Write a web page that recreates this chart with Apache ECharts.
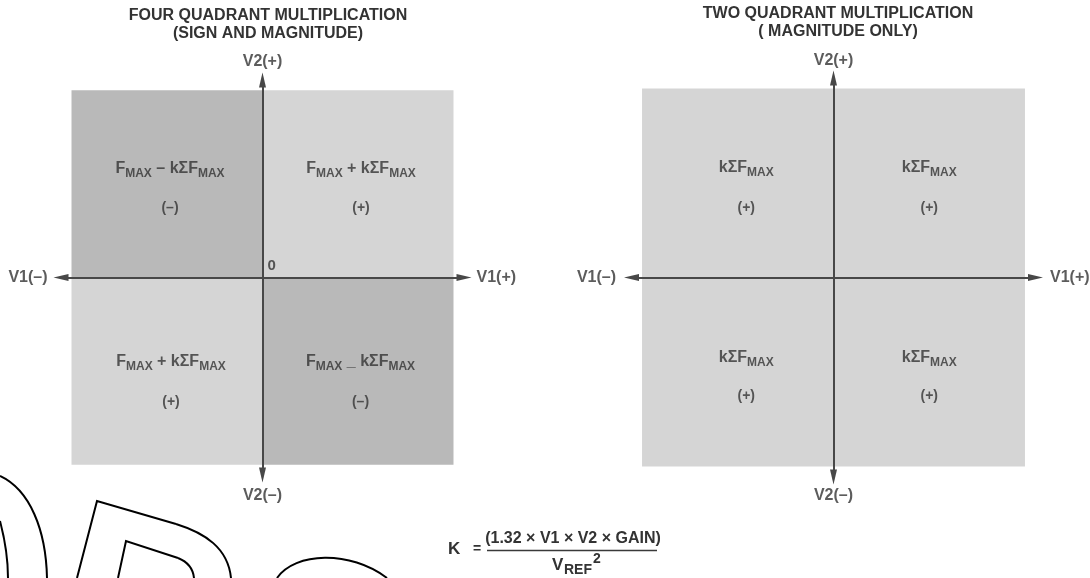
<!DOCTYPE html>
<html>
<head>
<meta charset="utf-8">
<script src="https://cdn.jsdelivr.net/npm/echarts@6/dist/echarts.min.js"></script>
<style>
html,body{margin:0;padding:0;background:#fff;}
#c{width:1090px;height:578px;}
</style>
</head>
<body>
<div id="c"></div>
<script>
// ---- data ----
const quadX = [[-1, 0], [0, 1], [-1, 0], [0, 1]];   // TL, TR, BL, BR
const quadY = [[0, 1], [0, 1], [-1, 0], [-1, 0]];
const fourFormulas = ['F_MAX – kΣF_MAX', 'F_MAX + kΣF_MAX', 'F_MAX + kΣF_MAX', 'F_MAX _ kΣF_MAX'];
const fourSigns = ['(–)', '(+)', '(+)', '(–)'];
const twoFormulas = ['kΣF_MAX', 'kΣF_MAX', 'kΣF_MAX', 'kΣF_MAX'];
const twoSigns = ['(+)', '(+)', '(+)', '(+)'];
const axisEndNames = ['V1(–)', 'V1(+)', 'V2(+)', 'V2(–)'];
const originLabel = '0';
const fourTitle = ['FOUR QUADRANT MULTIPLICATION', '(SIGN AND MAGNITUDE)'];
const twoTitle = ['TWO QUADRANT MULTIPLICATION', '( MAGNITUDE ONLY)'];
const formulaLHS = ['K', '='];
const formulaNum = '(1.32 × V1 × V2 × GAIN)';
const formulaDen = ['V', 'REF', '2'];

// ---- style ----
const FONT = '"Liberation Sans", Arial, Helvetica, sans-serif';
const TXT = '#333333';
const AXC = '#484848';
const DARK = '#b9b9b9';
const LIGHT = '#d5d5d5';
const R = 1.055;

// per-panel label nudges (px): [dx, formulaDy, signDy] for TL, TR, BL, BR
const nudgeFour = [[3, -15, 24.5], [3, -15, 24.5], [4, -9.5, 31], [2.5, -9.5, 31]];
const nudgeTwo = [[8.5, -15.5, 25.5], [0, -15.5, 25.5], [8.5, -14.5, 24.5], [0, -14.5, 24.5]];
// distances of axis-end names from line ends: left, right, top, bottom
const distFour = [13.5, 12.5, 10, 13];
const distTwo = [15.5, 14.5, 9, 11];

function toRich(s) {
  const parts = s.split(/(_MAX)/);
  return parts.filter(p => p.length).map(p => p === '_MAX' ? '{s|MAX}' : '{f|' + p + '}').join('');
}

const richStyles = {
  f: { fontSize: 16, fontWeight: 'bold', color: TXT, fontFamily: FONT, lineHeight: 20 },
  s: { fontSize: 12, fontWeight: 'bold', color: TXT, fontFamily: FONT, lineHeight: 20, height: 10, verticalAlign: 'bottom' }
};

function quadSeries(gi, signs, dark) {
  return {
    type: 'custom', xAxisIndex: gi, yAxisIndex: gi, z: 1, silent: true,
    renderItem: function (params, api) {
      const p0 = api.coord([api.value(0), api.value(3)]);
      const p1 = api.coord([api.value(1), api.value(2)]);
      return { type: 'rect', shape: { x: p0[0], y: p0[1], width: p1[0] - p0[0], height: p1[1] - p0[1] },
        style: { fill: api.visual('color') } };
    },
    data: quadX.map((x, i) => ({
      value: [x[0], x[1], quadY[i][0], quadY[i][1]],
      itemStyle: { color: (dark && signs[i] === '(–)') ? DARK : LIGHT }
    }))
  };
}

function textSeries(gi, formulas, signs, nudge) {
  const data = [];
  quadX.forEach((x, i) => {
    const cx = (x[0] + x[1]) / 2, cy = (quadY[i][0] + quadY[i][1]) / 2;
    const n = nudge[i];
    data.push({ value: [cx, cy], label: { formatter: toRich(formulas[i]), offset: [n[0], n[1]] } });
    data.push({ value: [cx, cy], label: { formatter: signs[i], offset: [n[0], n[2]], fontSize: 14 } });
  });
  return {
    type: 'scatter', xAxisIndex: gi, yAxisIndex: gi, z: 5, silent: true, symbolSize: 0,
    label: { show: true, position: 'inside', color: TXT, fontFamily: FONT, fontWeight: 'bold', rich: richStyles },
    data: data
  };
}

function axisNameSeries(gi, showZero, dist) {
  const pts = [[-R, 0, 'left'], [R, 0, 'right'], [0, R, 'top'], [0, -R, 'bottom']];
  const data = pts.map((p, i) => ({ value: [p[0], p[1]], label: { formatter: axisEndNames[i], position: p[2], distance: dist[i] } }));
  if (showZero) data.push({ value: [0, 0], label: { formatter: originLabel, position: [5, -19], fontSize: 15 } });
  return {
    type: 'scatter', xAxisIndex: gi, yAxisIndex: gi, z: 5, silent: true, symbolSize: 0, clip: false,
    label: { show: true, color: TXT, fontFamily: FONT, fontWeight: 'bold', fontSize: 16 },
    data: data
  };
}

function mkAxis(gi) {
  return {
    type: 'value', gridIndex: gi, min: -R, max: R, z: 10,
    axisLine: { show: true, onZero: true, symbol: ['triangle', 'triangle'], symbolSize: [7, 15],
      lineStyle: { color: AXC, width: 2 } },
    axisTick: { show: false }, axisLabel: { show: false }, splitLine: { show: false }
  };
}

const pen = { stroke: '#000', lineWidth: 2, fill: null };
const T = (x, y, text, size, align, base) => ({ type: 'text', x: x, y: y, z: 10,
  style: { text: text, font: 'bold ' + size + 'px ' + FONT, fill: TXT, textAlign: align || 'left', textVerticalAlign: base || 'middle' } });

const option = {
  animation: false,
  backgroundColor: '#ffffff',
  grid: [
    { left: 61, top: 80, width: 403, height: 395 },
    { left: 631.5, top: 78, width: 404, height: 399 }
  ],
  xAxis: [mkAxis(0), mkAxis(1)],
  yAxis: [mkAxis(0), mkAxis(1)],
  series: [
    quadSeries(0, fourSigns, true),
    quadSeries(1, twoSigns, false),
    textSeries(0, fourFormulas, fourSigns, nudgeFour),
    textSeries(1, twoFormulas, twoSigns, nudgeTwo),
    axisNameSeries(0, true, distFour),
    axisNameSeries(1, false, distTwo)
  ],
  graphic: [
    T(268, 16, fourTitle[0], 16, 'center'),
    T(268, 34, fourTitle[1], 16, 'center'),
    T(838, 14, twoTitle[0], 16, 'center'),
    T(838, 32, twoTitle[1], 16, 'center'),
    T(448, 549, formulaLHS[0], 17, 'left'),
    T(473, 549, formulaLHS[1], 14, 'left'),
    T(573, 539, formulaNum, 16, 'center'),
    { type: 'line', shape: { x1: 487, y1: 550.5, x2: 657, y2: 550.5 }, style: { stroke: '#3a3a3a', lineWidth: 1.5 }, z: 10 },
    T(552, 565, formulaDen[0], 17, 'left'),
    T(564, 570, formulaDen[1], 14, 'left'),
    T(593, 559, formulaDen[2], 14, 'left'),
    // scanned-page outline marks in lower left
    { type: 'bezierCurve', shape: { x1: 0, y1: 476, cpx1: 30, cpy1: 490, cpx2: 46, cpy2: 530, x2: 47, y2: 578 }, style: pen, z: 10 },
    { type: 'bezierCurve', shape: { x1: 0, y1: 521, cpx1: 5, cpy1: 540, cpx2: 8, cpy2: 560, x2: 8, y2: 578 }, style: pen, z: 10 },
    { type: 'polyline', shape: { points: [[77, 578], [97, 501], [176, 524]] }, style: pen, z: 10 },
    { type: 'bezierCurve', shape: { x1: 176, y1: 524, cpx1: 205, cpy1: 533, cpx2: 228, cpy2: 548, x2: 231, y2: 578 }, style: pen, z: 10 },
    { type: 'polyline', shape: { points: [[118, 578], [126, 541], [178, 558]] }, style: pen, z: 10 },
    { type: 'bezierCurve', shape: { x1: 178, y1: 558, cpx1: 188, cpy1: 562, cpx2: 193, cpy2: 568, x2: 194, y2: 578 }, style: pen, z: 10 },
    { type: 'bezierCurve', shape: { x1: 277, y1: 578, cpx1: 295, cpy1: 552, cpx2: 350, cpy2: 550, x2: 387, y2: 578 }, style: pen, z: 10 }
  ]
};

const chart = echarts.init(document.getElementById('c'), null, { renderer: 'canvas' });
chart.setOption(option);
</script>
</body>
</html>
